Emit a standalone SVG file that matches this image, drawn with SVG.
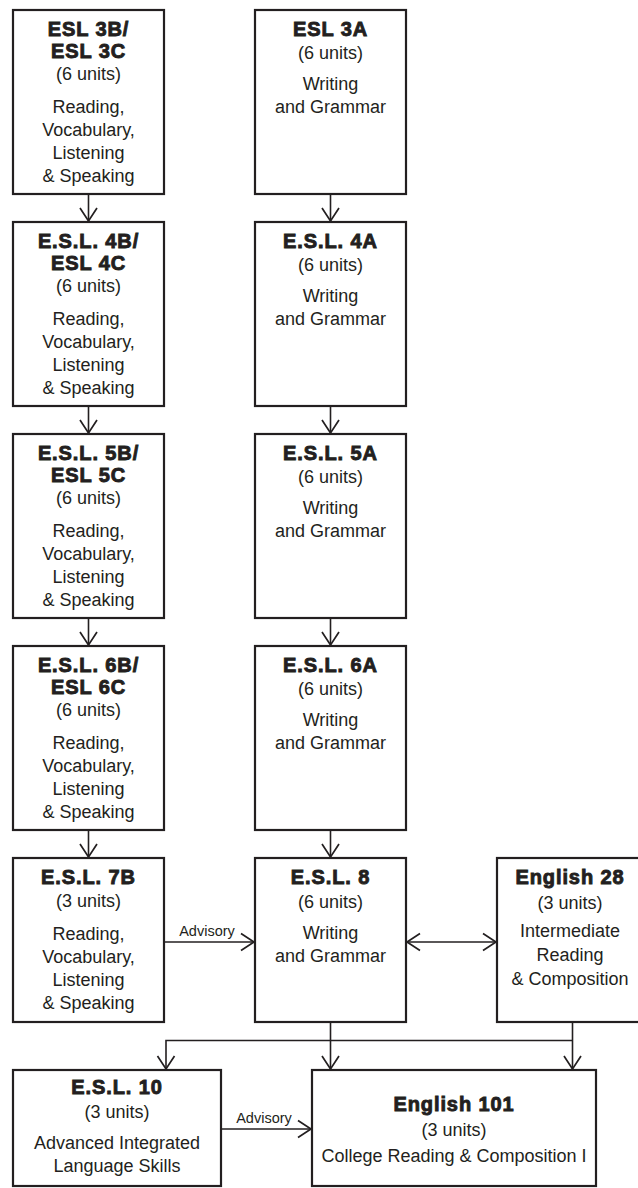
<svg xmlns="http://www.w3.org/2000/svg" width="638" height="1188" viewBox="0 0 638 1188">
<style>
.box{fill:#fff;stroke:#231f20;stroke-width:2.2}
.t{font-family:"Liberation Sans",Arial,sans-serif;font-weight:bold;font-size:20px;letter-spacing:0.9px;fill:#231f20;stroke:#231f20;stroke-width:0.9;text-anchor:middle}
.r{font-family:"Liberation Sans",Arial,sans-serif;font-size:18px;fill:#231f20;text-anchor:middle}
.lbl{font-family:"Liberation Sans",Arial,sans-serif;font-size:14.5px;fill:#231f20;text-anchor:middle}
.c{fill:none;stroke:#231f20;stroke-width:1.6}
</style>
<defs>
<marker id="ah" markerUnits="userSpaceOnUse" markerWidth="16" markerHeight="20" viewBox="0 0 16 20" refX="14" refY="10" orient="auto-start-reverse">
<path d="M1,1.5 L14,10 L1,18.5" fill="none" stroke="#231f20" stroke-width="1.7"/>
</marker>
</defs>
<g id="connectors">
<path class="c" d="M88.5,195 V221" marker-end="url(#ah)"/>
<path class="c" d="M88.5,407 V433" marker-end="url(#ah)"/>
<path class="c" d="M88.5,619 V645" marker-end="url(#ah)"/>
<path class="c" d="M88.5,831 V857" marker-end="url(#ah)"/>
<path class="c" d="M330.5,195 V221" marker-end="url(#ah)"/>
<path class="c" d="M330.5,407 V433" marker-end="url(#ah)"/>
<path class="c" d="M330.5,619 V645" marker-end="url(#ah)"/>
<path class="c" d="M330.5,831 V857" marker-end="url(#ah)"/>
<path class="c" d="M165,942 H254" marker-end="url(#ah)"/>
<text class="lbl" x="207" y="936">Advisory</text>
<path class="c" d="M407,942 H496" marker-start="url(#ah)" marker-end="url(#ah)"/>
<path class="c" d="M330.5,1023 V1069" marker-end="url(#ah)"/>
<path class="c" d="M572.5,1023 V1069" marker-end="url(#ah)"/>
<path class="c" d="M572.5,1040.5 H166 V1069" marker-end="url(#ah)"/>
<path class="c" d="M222,1129 H311" marker-end="url(#ah)"/>
<text class="lbl" x="264" y="1123">Advisory</text>
</g>
<g id="esl3b">
<rect class="box" x="13" y="10" width="151" height="184"/>
<text class="t" x="88.5" y="36">ESL 3B/</text>
<text class="t" x="88.5" y="58">ESL 3C</text>
<text class="r" x="88.5" y="80">(6 units)</text>
<text class="r" x="88.5" y="113">Reading,</text>
<text class="r" x="88.5" y="136">Vocabulary,</text>
<text class="r" x="88.5" y="159">Listening</text>
<text class="r" x="88.5" y="182">&amp; Speaking</text>
</g>
<g id="esl4b">
<rect class="box" x="13" y="222" width="151" height="184"/>
<text class="t" x="88.5" y="248">E.S.L. 4B/</text>
<text class="t" x="88.5" y="270">ESL 4C</text>
<text class="r" x="88.5" y="292">(6 units)</text>
<text class="r" x="88.5" y="325">Reading,</text>
<text class="r" x="88.5" y="348">Vocabulary,</text>
<text class="r" x="88.5" y="371">Listening</text>
<text class="r" x="88.5" y="394">&amp; Speaking</text>
</g>
<g id="esl5b">
<rect class="box" x="13" y="434" width="151" height="184"/>
<text class="t" x="88.5" y="460">E.S.L. 5B/</text>
<text class="t" x="88.5" y="482">ESL 5C</text>
<text class="r" x="88.5" y="504">(6 units)</text>
<text class="r" x="88.5" y="537">Reading,</text>
<text class="r" x="88.5" y="560">Vocabulary,</text>
<text class="r" x="88.5" y="583">Listening</text>
<text class="r" x="88.5" y="606">&amp; Speaking</text>
</g>
<g id="esl6b">
<rect class="box" x="13" y="646" width="151" height="184"/>
<text class="t" x="88.5" y="672">E.S.L. 6B/</text>
<text class="t" x="88.5" y="694">ESL 6C</text>
<text class="r" x="88.5" y="716">(6 units)</text>
<text class="r" x="88.5" y="749">Reading,</text>
<text class="r" x="88.5" y="772">Vocabulary,</text>
<text class="r" x="88.5" y="795">Listening</text>
<text class="r" x="88.5" y="818">&amp; Speaking</text>
</g>
<g id="esl7b">
<rect class="box" x="13" y="858" width="151" height="164"/>
<text class="t" x="88.5" y="884">E.S.L. 7B</text>
<text class="r" x="88.5" y="907">(3 units)</text>
<text class="r" x="88.5" y="940">Reading,</text>
<text class="r" x="88.5" y="963">Vocabulary,</text>
<text class="r" x="88.5" y="986">Listening</text>
<text class="r" x="88.5" y="1009">&amp; Speaking</text>
</g>
<g id="esl3a">
<rect class="box" x="255" y="10" width="151" height="184"/>
<text class="t" x="330.5" y="36">ESL 3A</text>
<text class="r" x="330.5" y="59">(6 units)</text>
<text class="r" x="330.5" y="90">Writing</text>
<text class="r" x="330.5" y="113">and Grammar</text>
</g>
<g id="esl4a">
<rect class="box" x="255" y="222" width="151" height="184"/>
<text class="t" x="330.5" y="248">E.S.L. 4A</text>
<text class="r" x="330.5" y="271">(6 units)</text>
<text class="r" x="330.5" y="302">Writing</text>
<text class="r" x="330.5" y="325">and Grammar</text>
</g>
<g id="esl5a">
<rect class="box" x="255" y="434" width="151" height="184"/>
<text class="t" x="330.5" y="460">E.S.L. 5A</text>
<text class="r" x="330.5" y="483">(6 units)</text>
<text class="r" x="330.5" y="514">Writing</text>
<text class="r" x="330.5" y="537">and Grammar</text>
</g>
<g id="esl6a">
<rect class="box" x="255" y="646" width="151" height="184"/>
<text class="t" x="330.5" y="672">E.S.L. 6A</text>
<text class="r" x="330.5" y="695">(6 units)</text>
<text class="r" x="330.5" y="726">Writing</text>
<text class="r" x="330.5" y="749">and Grammar</text>
</g>
<g id="esl8">
<rect class="box" x="255" y="858" width="151" height="164"/>
<text class="t" x="330.5" y="884">E.S.L. 8</text>
<text class="r" x="330.5" y="908">(6 units)</text>
<text class="r" x="330.5" y="939">Writing</text>
<text class="r" x="330.5" y="962">and Grammar</text>
</g>
<g id="eng28">
<rect class="box" x="497" y="858" width="146" height="164"/>
<text class="t" x="570" y="884">English 28</text>
<text class="r" x="570" y="909">(3 units)</text>
<text class="r" x="570" y="937">Intermediate</text>
<text class="r" x="570" y="961">Reading</text>
<text class="r" x="570" y="985">&amp; Composition</text>
</g>
<g id="esl10">
<rect class="box" x="13" y="1070" width="208" height="116"/>
<text class="t" x="117" y="1094">E.S.L. 10</text>
<text class="r" x="117" y="1118">(3 units)</text>
<text class="r" x="117" y="1149">Advanced Integrated</text>
<text class="r" x="117" y="1172">Language Skills</text>
</g>
<g id="eng101">
<rect class="box" x="312" y="1070" width="284" height="116"/>
<text class="t" x="454" y="1111">English 101</text>
<text class="r" x="454" y="1136">(3 units)</text>
<text class="r" x="454" y="1162">College Reading &amp; Composition I</text>
</g>
</svg>
